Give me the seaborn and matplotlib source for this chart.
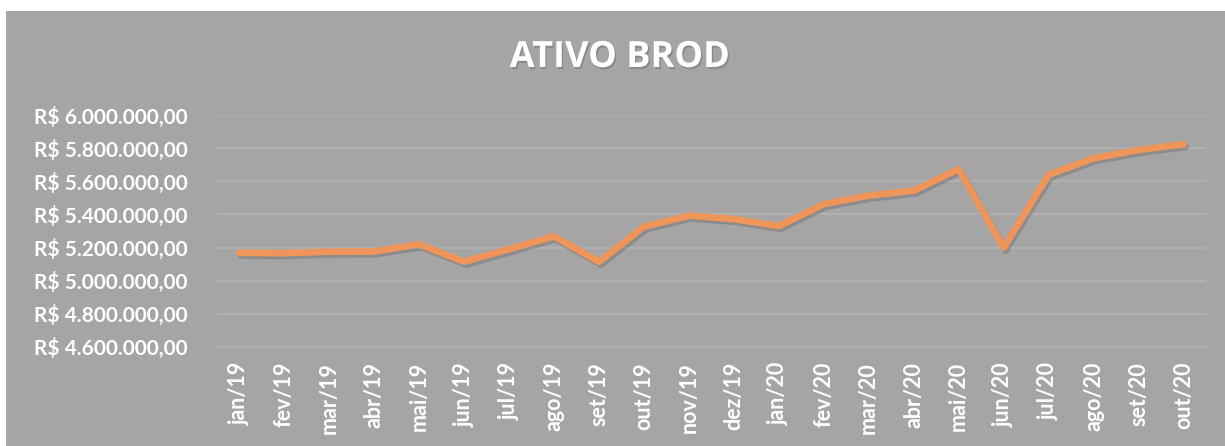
import seaborn as sns
import matplotlib
matplotlib.use("Agg")
import matplotlib.pyplot as plt
import matplotlib.patheffects as pe
from matplotlib.patches import Rectangle
from matplotlib.ticker import FuncFormatter, FixedLocator
import pandas as pd

meses = ["jan/19", "fev/19", "mar/19", "abr/19", "mai/19", "jun/19", "jul/19",
         "ago/19", "set/19", "out/19", "nov/19", "dez/19", "jan/20", "fev/20",
         "mar/20", "abr/20", "mai/20", "jun/20", "jul/20", "ago/20", "set/20", "out/20"]
ativo = [5168000, 5166000, 5175000, 5176000, 5220000, 5114000, 5190000,
         5268000, 5113000, 5326000, 5393000, 5372000, 5330000, 5463000,
         5514000, 5544000, 5675000, 5199000, 5640000, 5740000, 5790000, 5825000]
y_ticks = [4600000, 4800000, 5000000, 5200000, 5400000, 5600000, 5800000, 6000000]

df = pd.DataFrame({"mes": meses, "valor": ativo})

sns.set_theme(style="white")
plt.rcParams['font.family'] = ['Lato', 'DejaVu Sans']

bg = "#a5a5a5"
fig = plt.figure(figsize=(12.25, 4.46), dpi=100, facecolor="white")
fig.patches.append(Rectangle((6 / 1225, 0), 1 - 6 / 1225, 1 - 11 / 446,
                             transform=fig.transFigure, facecolor=bg,
                             edgecolor="none", zorder=-1))
ax = fig.add_axes([0.1769, 0.2226, 0.8076, 0.5189])
ax.set_facecolor(bg)

ax_line = sns.lineplot(data=df, x="mes", y="valor", sort=False, ax=ax,
                       color="#f0955a", linewidth=4.8)
line = ax_line.get_lines()[0]
line.set_solid_capstyle("round")
line.set_solid_joinstyle("round")
line.set_path_effects([pe.SimpleLineShadow(offset=(1.5, -2), alpha=0.3, shadow_color="#555555"),
                       pe.Normal()])

ax.set_ylim(4600000, 6000000)
ax.set_xlim(-0.5, len(meses) - 0.5)
ax.set_yticks(y_ticks)
ax.yaxis.set_major_formatter(FuncFormatter(
    lambda v, p: "R$ " + f"{v:,.2f}".replace(",", "X").replace(".", ",").replace("X", ".")))
ax.grid(axis="y", color="#b3b3b3", linewidth=1.2)
ax.set_axisbelow(True)

for s in ["top", "right", "left"]:
    ax.spines[s].set_visible(False)
ax.spines["bottom"].set_color("#b3b3b3")
ax.spines["bottom"].set_linewidth(1.2)

ax.xaxis.set_minor_locator(FixedLocator([i - 0.5 for i in range(len(meses) + 1)]))
ax.tick_params(axis="x", which="minor", length=6, width=1.2, color="#b3b3b3", direction="out")
ax.tick_params(axis="x", which="major", length=0, pad=11, labelrotation=90,
               labelsize=15.5, labelcolor="white")
ax.tick_params(axis="y", length=0, pad=21, labelsize=15, labelcolor="white")
for t in ax.get_xticklabels() + ax.get_yticklabels():
    t.set_fontweight("bold")
ax.set_xlabel("")
ax.set_ylabel("")

fig.text(0.506, 0.870, "ATIVO BROD", ha="center", va="center", color="white",
         fontsize=26, fontweight="bold", family=["Open Sans", "DejaVu Sans"],
         path_effects=[pe.SimplePatchShadow(offset=(1, -1.5), alpha=0.3), pe.Normal()])

fig.savefig("out.png", dpi=100, facecolor="white")
